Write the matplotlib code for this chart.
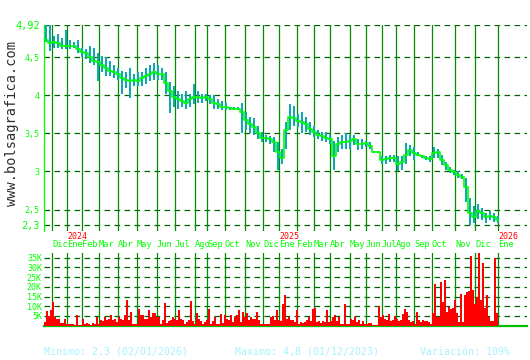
#grafico bolsagrafica: precio diario + volumen (dic 2023 - ene 2026)

#imports
import matplotlib
matplotlib.use('Agg')
import matplotlib.pyplot as plt
import matplotlib.transforms as mtransforms

#datos (una muestra cada 4 sesiones)
cierre = [4.72, 4.68, 4.70, 4.68, 4.65, 4.64, 4.64, 4.64, 4.60, 4.56,
          4.55, 4.50, 4.45, 4.43, 4.40, 4.35, 4.32, 4.30, 4.28, 4.22,
          4.20, 4.18, 4.20, 4.18, 4.22, 4.25, 4.28, 4.30, 4.28, 4.28,
          4.16, 4.05, 3.98, 3.95, 3.92, 3.90, 3.95, 3.97, 3.98, 3.96,
          3.97, 3.95, 3.90, 3.88, 3.85, 3.84, 3.83, 3.82, 3.82, 3.78,
          3.68, 3.62, 3.58, 3.50, 3.44, 3.44, 3.42, 3.38, 3.26, 3.18,
          3.55, 3.72, 3.70, 3.66, 3.65, 3.62, 3.56, 3.52, 3.48, 3.46,
          3.44, 3.42, 3.20, 3.36, 3.38, 3.38, 3.40, 3.43, 3.36, 3.36,
          3.37, 3.33, 3.25, 3.25, 3.15, 3.17, 3.18, 3.18, 3.10, 3.12,
          3.22, 3.28, 3.24, 3.22, 3.20, 3.18, 3.16, 3.24, 3.25, 3.15,
          3.08, 3.02, 2.99, 2.96, 2.93, 2.80, 2.45, 2.40, 2.48, 2.45,
          2.40, 2.42, 2.40, 2.36]

maximo = [4.92, 4.92, 4.78, 4.80, 4.75, 4.85, 4.72, 4.70, 4.72, 4.62,
          4.60, 4.65, 4.62, 4.55, 4.52, 4.50, 4.45, 4.40, 4.35, 4.32,
          4.30, 4.35, 4.28, 4.30, 4.30, 4.35, 4.40, 4.42, 4.40, 4.36,
          4.30, 4.17, 4.12, 4.05, 4.02, 4.05, 4.02, 4.15, 4.05, 4.02,
          4.02, 4.00, 4.00, 3.95, 3.92, 3.90, 3.85, 3.84, 3.84, 3.90,
          3.78, 3.72, 3.70, 3.60, 3.52, 3.48, 3.46, 3.45, 3.38, 3.30,
          3.65, 3.89, 3.86, 3.75, 3.78, 3.72, 3.65, 3.60, 3.55, 3.52,
          3.52, 3.48, 3.40, 3.45, 3.48, 3.50, 3.48, 3.48, 3.42, 3.42,
          3.40, 3.38, 3.27, 3.27, 3.20, 3.20, 3.22, 3.22, 3.20, 3.20,
          3.37, 3.35, 3.32, 3.25, 3.22, 3.20, 3.20, 3.32, 3.30, 3.22,
          3.12, 3.06, 3.02, 3.00, 2.97, 2.92, 2.65, 2.55, 2.58, 2.52,
          2.45, 2.48, 2.46, 2.42]

minimo = [4.70, 4.58, 4.62, 4.62, 4.60, 4.60, 4.60, 4.62, 4.55, 4.50,
          4.48, 4.42, 4.40, 4.18, 4.30, 4.25, 4.25, 4.22, 4.20, 4.02,
          4.10, 3.96, 4.12, 4.12, 4.12, 4.15, 4.18, 4.20, 4.20, 4.20,
          4.02, 3.76, 3.85, 3.82, 3.85, 3.82, 3.85, 3.88, 3.90, 3.90,
          3.92, 3.88, 3.82, 3.82, 3.80, 3.80, 3.80, 3.80, 3.80, 3.50,
          3.55, 3.50, 3.48, 3.42, 3.38, 3.38, 3.36, 3.26, 3.02, 3.10,
          3.30, 3.55, 3.60, 3.58, 3.51, 3.52, 3.48, 3.45, 3.42, 3.40,
          3.38, 3.36, 3.02, 3.25, 3.30, 3.30, 3.30, 3.35, 3.28, 3.30,
          3.32, 3.30, 3.24, 3.24, 3.10, 3.10, 3.12, 3.12, 3.00, 3.02,
          3.10, 3.20, 3.15, 3.20, 3.18, 3.15, 3.12, 3.18, 3.18, 3.08,
          3.02, 2.98, 2.96, 2.92, 2.90, 2.60, 2.30, 2.32, 2.38, 2.36,
          2.32, 2.36, 2.34, 2.32]

#volumen en miles (una muestra cada 2 sesiones)
volumen = [2, 7.5, 5, 8, 12, 4.5, 3.7, 3.5, 1.5, 1.2,
           3.7, 0.8, 0.8, 0.8, 0.8, 0.6, 5.4, 0.6, 0.6, 3.4,
           0.8, 1.2, 0.8, 0.6, 1.2, 1.0, 4.6, 0.8, 3, 2.5,
           4.6, 3, 3.7, 5.4, 3, 3.7, 2, 4.6, 3.4, 3,
           5.4, 13.4, 3, 7, 0.8, 0.8, 1, 8.8, 5.4, 5.4,
           3.7, 3.5, 8.3, 4.6, 6.3, 6.6, 4.6, 4.6, 1, 3,
           11.7, 1.5, 2.5, 3, 4.6, 3.7, 3, 8.3, 3.7, 3,
           0.8, 2, 3, 12.7, 2.5, 1, 6.6, 3.4, 2.5, 1,
           2, 3, 8.8, 1, 2.5, 4.6, 1, 0.8, 5.9, 1.5,
           5.4, 3.7, 3, 5.4, 2, 4.6, 5.4, 8.3, 2, 7,
           4.6, 6.3, 3, 4.6, 3.7, 3.7, 7, 3, 0.8, 0.8,
           0.8, 0.8, 0.8, 4.6, 5, 3, 8, 3, 2.5, 11.4,
           15.6, 3.7, 4.6, 3, 3, 2, 8, 0.8, 2, 1.2,
           2, 3, 4.6, 2.5, 8.8, 9.3, 2, 2.5, 1.5, 2.5,
           2, 8.3, 2, 2.5, 4.6, 5.4, 2.5, 4.6, 0.8, 0.8,
           11, 0.8, 0.8, 3.7, 3, 4.6, 2, 3, 0.8, 2.5,
           0.8, 0.8, 1.2, 1.5, 0.4, 0.4, 0.4, 10, 4.6, 5.4,
           3.7, 3, 5.9, 2.5, 3, 4.9, 3.7, 2.5, 3, 5.9,
           8.8, 7, 3, 2, 2.5, 0.8, 7, 3, 2, 3,
           2.5, 2.5, 2, 1, 6.3, 21.5, 4.6, 4.6, 22.4, 12.2,
           23.6, 7, 9.6, 8.8, 9.3, 13.4, 6.3, 2, 16.4, 2,
           15.6, 17.3, 18.1, 36, 18.5, 11.4, 14.7, 38, 13, 32.5,
           9, 15.6, 4.6, 2.5, 2.5, 34.7, 6.6]

#sesion en la que empieza cada mes
inicio_mes = [8, 23, 38, 55, 74, 93, 113, 131, 151, 163, 181, 201, 219,
              235, 253, 270, 286, 306, 322, 338, 352, 370, 388, 411, 431, 454]
meses = ['Dic', 'Ene', 'Feb', 'Mar', 'Abr', 'May', 'Jun', 'Jul', 'Ago', 'Sep', 'Oct', 'Nov', 'Dic',
         'Ene', 'Feb', 'Mar', 'Abr', 'May', 'Jun', 'Jul', 'Ago', 'Sep', 'Oct', 'Nov', 'Dic', 'Ene']
anios = {1: '2024', 13: '2025', 25: '2026'}

precio_ticks = [4.92, 4.5, 4, 3.5, 3, 2.5, 2.3]
precio_labels = ['4,92', '4,5', '4', '3,5', '3', '2,5', '2,3']
vol_ticks = [5, 10, 15, 20, 25, 30, 35]
vol_labels = ['5K', '10K', '15K', '20K', '25K', '30K', '35K']

#colores
VERDE_CLARO = '#00ff00'
VERDE_LINEA = '#008c00'
VERDE_GRID = '#006400'
TURQUESA = '#10a8b4'
ROJO = '#ff0000'
MONO = 'DejaVu Sans Mono'

x_precio = [4 * i + 2 for i in range(len(cierre))]
x_vol = [2 * i + 1 for i in range(len(volumen))]

fig = plt.figure(figsize=(5.3, 3.6), dpi=100)
ax = fig.add_axes([0.083, 0.3583, 0.9113, 0.5723])
ax2 = fig.add_axes([0.083, 0.0953, 0.9113, 0.2019])

#panel de precio
altura = [h - l for h, l in zip(maximo, minimo)]
ax.bar(x_precio, altura, bottom=minimo, width=2.2, color=TURQUESA, zorder=3)
ax.step(x_precio, cierre, where='mid', color=VERDE_CLARO, lw=1.2, zorder=4)
ax.set_xlim(0, 483)
ax.set_ylim(2.22, 4.92)
ax.set_yticks(precio_ticks)
ax.set_yticklabels(precio_labels, family=MONO, color=VERDE_CLARO)
for lab, t in zip(ax.get_yticklabels(), precio_ticks):
    lab.set_fontsize(7.4 if t in (4.92, 2.3) else 6.0)
ax.set_xticks([])
ax.tick_params(axis='y', length=0, pad=3)
for y in precio_ticks:
    ax.axhline(y, color=VERDE_GRID, lw=0.9, ls=(0, (4.5, 3.5)), zorder=1)
for s in inicio_mes:
    ax.axvline(s, color=VERDE_LINEA, lw=0.9, zorder=2)
for sp in ['top', 'right', 'bottom']:
    ax.spines[sp].set_visible(False)
ax.spines['left'].set_color(VERDE_CLARO)
ax.spines['left'].set_linewidth(0.9)

#etiquetas de meses y anios (Ago y Sep se solapan como en el original)
trans = mtransforms.blended_transform_factory(ax.transData, fig.transFigure)
for i, (s, m) in enumerate(zip(inicio_mes, meses)):
    ax.text(s, 0.3222, m, transform=trans, family=MONO, fontsize=6.2,
            color=VERDE_CLARO, ha='left', va='center')
    if i in anios:
        ax.text(s, 0.3444, anios[i], transform=trans, family=MONO, fontsize=6.0,
                color=ROJO, ha='left', va='center')

#panel de volumen
ax2.bar(x_vol, volumen, width=1.9, color=ROJO, zorder=3)
ax2.set_xlim(0, 483)
ax2.set_ylim(0, 37.4)
ax2.set_yticks(vol_ticks)
ax2.set_yticklabels(vol_labels, family=MONO, fontsize=6.0, color=VERDE_CLARO)
ax2.set_xticks([])
ax2.tick_params(axis='y', length=0, pad=1.5)
for y in vol_ticks:
    ax2.axhline(y, color=VERDE_GRID, lw=0.9, ls=(0, (4.5, 3.5)), zorder=1)
for s in inicio_mes:
    ax2.axvline(s, color=VERDE_LINEA, lw=0.9, zorder=2)
for sp in ['top', 'right', 'left']:
    ax2.spines[sp].set_visible(False)
ax2.spines['bottom'].set_color('#00c000')
ax2.spines['bottom'].set_linewidth(1.6)

#textos
fig.text(0.023, 1 - 124 / 360, 'www.bolsagrafica.com', rotation=90,
         family=MONO, fontsize=9.8, color='#303030', ha='center', va='center')
fig.text(44 / 530, 1 - 352 / 360, 'Minimo: 2,3 (02/01/2026)', family=MONO, fontsize=7.1,
         color='#a8f0ff', ha='left', va='center')
fig.text(235 / 530, 1 - 352 / 360, 'Maximo: 4,8 (01/12/2023)', family=MONO, fontsize=7.1,
         color='#a8f0ff', ha='left', va='center')
fig.text(420 / 530, 1 - 352 / 360, 'Variación: 109%', family=MONO, fontsize=7.1,
         color='#a8f0ff', ha='left', va='center')

fig.savefig('out.png', dpi=100)
